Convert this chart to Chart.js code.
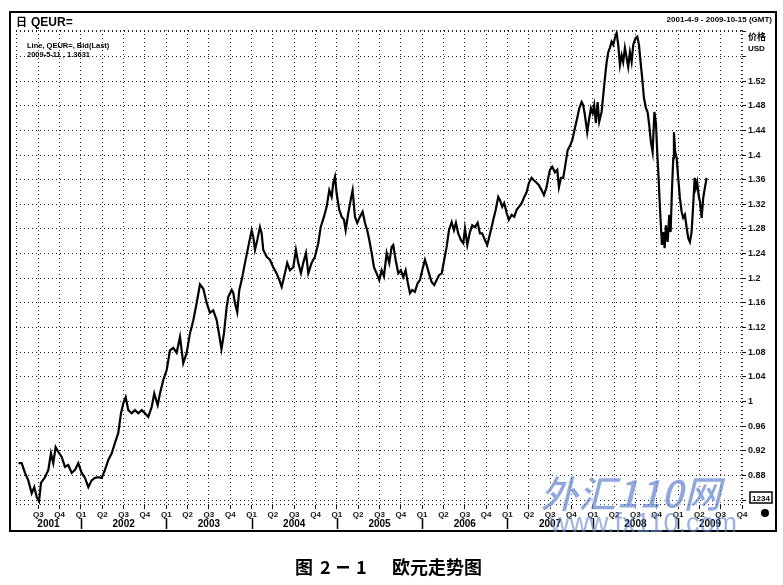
<!DOCTYPE html>
<html><head><meta charset="utf-8">
<script src="https://cdn.jsdelivr.net/npm/chart.js@4.4.1/dist/chart.umd.min.js"></script>
<style>html,body{margin:0;padding:0;background:#fff;}canvas{display:block;}</style>
</head><body>
<canvas id="c" width="783" height="585"></canvas>
<script>
// ---- data (decimal years, EUR/USD bid) ----
const dates = [
2001.268,2001.305,2001.343,2001.382,2001.422,2001.452,2001.481,2001.508,2001.531,2001.578,2001.617,2001.648,2001.675,2001.703,2001.734,2001.774,2001.812,2001.851,2001.891,2001.930,2001.968,
2002.008,2002.047,2002.086,2002.125,2002.164,2002.203,2002.243,2002.281,2002.320,2002.360,2002.399,2002.437,2002.469,2002.496,2002.524,2002.555,2002.594,2002.633,2002.672,2002.712,2002.750,2002.789,2002.829,2002.859,2002.899,2002.926,2002.965,
2003.005,2003.043,2003.082,2003.122,2003.161,2003.199,2003.239,2003.278,2003.317,2003.356,2003.395,2003.434,2003.474,2003.512,2003.551,2003.591,2003.624,2003.647,2003.676,2003.708,2003.727,2003.767,2003.786,2003.805,2003.832,2003.856,2003.884,2003.923,2003.961,
2004.001,2004.020,2004.040,2004.067,2004.098,2004.118,2004.137,2004.177,2004.216,2004.254,2004.294,2004.333,2004.353,2004.391,2004.418,2004.450,2004.489,2004.520,2004.547,2004.579,2004.606,2004.638,2004.665,2004.704,2004.743,2004.782,2004.810,2004.849,2004.880,2004.911,2004.939,2004.958,2004.978,2004.997,
2005.028,2005.056,2005.083,2005.103,2005.134,2005.162,2005.185,2005.212,2005.239,2005.271,2005.302,2005.329,2005.356,2005.380,2005.408,2005.435,2005.466,2005.497,2005.525,2005.552,2005.584,2005.614,2005.642,2005.661,2005.689,2005.720,2005.751,2005.778,2005.806,2005.830,2005.857,2005.884,2005.915,2005.947,2005.974,
2006.001,2006.033,2006.053,2006.080,2006.111,2006.142,2006.170,2006.197,2006.229,2006.259,2006.287,2006.314,2006.346,2006.373,2006.396,2006.423,2006.455,2006.482,2006.502,2006.529,2006.560,2006.587,2006.619,2006.651,2006.677,2006.704,2006.736,2006.763,2006.783,2006.806,2006.834,2006.862,2006.892,2006.912,2006.939,2006.962,2006.991,
2007.017,2007.049,2007.080,2007.108,2007.135,2007.166,2007.197,2007.225,2007.252,2007.283,2007.310,2007.342,2007.369,2007.401,2007.428,2007.459,2007.478,2007.498,2007.525,2007.557,2007.584,2007.604,2007.627,2007.654,2007.682,2007.706,2007.733,2007.762,2007.791,2007.818,2007.842,2007.870,2007.888,2007.908,2007.935,2007.959,2007.979,2007.999,
2008.017,2008.037,2008.057,2008.076,2008.104,2008.123,2008.143,2008.163,2008.182,2008.201,2008.221,2008.240,2008.260,2008.280,2008.299,2008.319,2008.339,2008.357,2008.377,2008.397,2008.416,2008.436,2008.456,2008.475,2008.503,2008.522,2008.542,2008.561,2008.580,2008.600,2008.624,2008.643,2008.662,2008.682,2008.702,2008.723,2008.741,2008.756,2008.772,2008.788,2008.799,2008.811,2008.826,2008.843,2008.858,2008.878,2008.897,2008.913,2008.928,2008.944,2008.952,2008.967,2008.984,
2009.002,2009.022,2009.042,2009.061,2009.081,2009.101,2009.120,2009.139,2009.159,2009.178,2009.195,2009.210,2009.225,2009.241,2009.257,2009.277,2009.295,2009.315,2009.335
];
const prices = [
0.900,0.900,0.884,0.872,0.851,0.861,0.845,0.838,0.868,0.877,0.889,0.916,0.900,0.926,0.918,0.910,0.894,0.897,0.884,0.889,0.900,
0.884,0.876,0.861,0.872,0.876,0.877,0.876,0.889,0.905,0.916,0.933,0.949,0.981,0.997,1.007,0.986,0.981,0.986,0.981,0.986,0.981,0.975,0.991,1.013,0.994,1.013,1.035,
1.051,1.083,1.087,1.079,1.105,1.062,1.079,1.111,1.132,1.160,1.190,1.183,1.160,1.144,1.148,1.132,1.105,1.085,1.110,1.153,1.170,1.181,1.176,1.160,1.145,1.181,1.197,1.225,1.251,
1.278,1.267,1.246,1.262,1.283,1.273,1.246,1.235,1.230,1.218,1.208,1.194,1.186,1.208,1.225,1.213,1.218,1.246,1.225,1.208,1.225,1.241,1.208,1.225,1.235,1.257,1.283,1.300,1.316,1.343,1.332,1.355,1.365,1.338,
1.311,1.300,1.295,1.278,1.306,1.327,1.343,1.300,1.290,1.300,1.308,1.290,1.278,1.262,1.241,1.218,1.208,1.197,1.213,1.203,1.241,1.225,1.251,1.254,1.230,1.208,1.213,1.202,1.213,1.194,1.176,1.181,1.178,1.192,1.197,
1.213,1.230,1.221,1.208,1.194,1.189,1.197,1.205,1.208,1.230,1.251,1.278,1.291,1.278,1.290,1.273,1.262,1.257,1.281,1.254,1.275,1.286,1.283,1.290,1.273,1.273,1.262,1.254,1.265,1.278,1.295,1.311,1.332,1.327,1.316,1.322,1.306,
1.295,1.303,1.300,1.311,1.316,1.322,1.332,1.340,1.355,1.363,1.359,1.355,1.351,1.343,1.335,1.348,1.363,1.376,1.381,1.372,1.376,1.348,1.363,1.363,1.387,1.408,1.415,1.425,1.444,1.460,1.476,1.486,1.481,1.465,1.437,1.460,1.476,1.468,
1.481,1.452,1.486,1.454,1.470,1.497,1.525,1.551,1.567,1.574,1.584,1.579,1.590,1.598,1.579,1.546,1.562,1.551,1.574,1.558,1.543,1.567,1.551,1.579,1.590,1.592,1.579,1.551,1.525,1.493,1.476,1.470,1.449,1.421,1.405,1.470,1.452,1.405,1.363,1.314,1.286,1.254,1.275,1.249,1.286,1.259,1.303,1.275,1.340,1.395,1.437,1.405,1.395,
1.363,1.330,1.308,1.298,1.303,1.282,1.265,1.259,1.275,1.319,1.363,1.347,1.356,1.335,1.324,1.298,1.330,1.347,1.363
];
const quarterTicks = [2001.5,2001.75,2002,2002.25,2002.5,2002.75,2003,2003.25,2003.5,2003.75,2004,2004.25,2004.5,2004.75,2005,2005.25,2005.5,2005.75,2006,2006.25,2006.5,2006.75,2007,2007.25,2007.5,2007.75,2008,2008.25,2008.5,2008.75,2009,2009.25,2009.5,2009.75];
const quarterLabels = ['Q3','Q4','Q1','Q2','Q3','Q4','Q1','Q2','Q3','Q4','Q1','Q2','Q3','Q4','Q1','Q2','Q3','Q4','Q1','Q2','Q3','Q4','Q1','Q2','Q3','Q4','Q1','Q2','Q3','Q4','Q1','Q2','Q3','Q4'];
const yearStarts = [2001,2002,2003,2004,2005,2006,2007,2008,2009];
const yearLabels = ['2001','2002','2003','2004','2005','2006','2007','2008','2009'];
const priceTicks = [0.84,0.88,0.92,0.96,1.00,1.04,1.08,1.12,1.16,1.20,1.24,1.28,1.32,1.36,1.40,1.44,1.48,1.52,1.56,1.60];
const priceTickLabels = ['','0.88','0.92','0.96','1','1.04','1.08','1.12','1.16','1.2','1.24','1.28','1.32','1.36','1.4','1.44','1.48','1.52','',''];

const FONT = "'Liberation Sans', Arial, sans-serif";
const CJK = "'Noto Sans CJK SC', sans-serif";
const DOT = [1, 3];

const decor = {
  id: 'decor',
  afterDraw(chart) {
    const ctx = chart.ctx, a = chart.chartArea, xs = chart.scales.x;
    ctx.save();
    // dotted plot border
    ctx.strokeStyle = '#222'; ctx.lineWidth = 1; ctx.setLineDash(DOT);
    ctx.beginPath();
    ctx.moveTo(a.left + 0.5, a.top); ctx.lineTo(a.left + 0.5, a.bottom);
    ctx.moveTo(a.left, a.top + 0.5); ctx.lineTo(a.right, a.top + 0.5);
    ctx.moveTo(a.right - 0.5, a.top); ctx.lineTo(a.right - 0.5, a.bottom);
    ctx.moveTo(a.left, a.bottom - 0.5); ctx.lineTo(a.right, a.bottom - 0.5);
    ctx.stroke();
    ctx.setLineDash([]);
    // outer frame
    ctx.lineWidth = 2; ctx.strokeStyle = '#000';
    ctx.strokeRect(10, 12, 766, 519);
    // header
    ctx.fillStyle = '#000'; ctx.textBaseline = 'alphabetic'; ctx.textAlign = 'left';
    ctx.font = 'bold 11px ' + CJK; ctx.fillText('日', 16, 26);
    ctx.font = 'bold 12px ' + FONT; ctx.fillText('QEUR=', 31, 26);
    ctx.font = 'bold 8px ' + FONT; ctx.textAlign = 'right';
    ctx.fillText('2001-4-9 - 2009-10-15 (GMT)', 772, 22);
    ctx.textAlign = 'left';
    ctx.font = 'bold 7.5px ' + FONT;
    ctx.fillText('Line, QEUR=, Bid(Last)', 27, 48);
    ctx.fillText('2009-5-11 , 1.3631', 27, 57);
    ctx.font = 'bold 9px ' + CJK; ctx.fillText('价格', 748, 40);
    ctx.font = 'bold 8px ' + FONT; ctx.fillText('USD', 748, 51);
    // year labels + separators
    ctx.font = 'bold 10px ' + FONT; ctx.textAlign = 'center';
    ctx.lineWidth = 1.5;
    yearStarts.forEach((s, i) => {
      const lo = Math.max(s, xs.min), hi = Math.min(s + 1, xs.max);
      const cx = (xs.getPixelForValue(lo) + xs.getPixelForValue(hi)) / 2;
      ctx.fillText(yearLabels[i], cx, 527);
      if (s > xs.min) {
        const px = Math.round(xs.getPixelForValue(s)) + 0.5;
        ctx.beginPath(); ctx.moveTo(px, 518); ctx.lineTo(px, 529); ctx.stroke();
      }
    });
    // value box and dot
    ctx.lineWidth = 1.5;
    ctx.strokeRect(750, 492, 22, 11);
    ctx.font = 'bold 8px ' + FONT; ctx.fillText('1234', 761, 501);
    ctx.beginPath(); ctx.arc(765, 513, 4, 0, Math.PI * 2); ctx.fill();
    // watermark
    ctx.textAlign = 'left';
    ctx.fillStyle = 'rgba(95,130,205,0.7)';
    ctx.strokeStyle = 'rgba(255,255,255,0.9)'; ctx.lineWidth = 1;
    ctx.font = 'italic bold 38px ' + CJK;
    ctx.fillText('外汇110网', 540, 508); ctx.strokeText('外汇110网', 540, 508);
    ctx.fillStyle = 'rgba(95,130,205,0.62)';
    ctx.font = '27px ' + FONT; ctx.fillText('www.fx110.com', 550, 532);
    // caption
    ctx.fillStyle = '#000';
    ctx.font = 'bold 18px ' + CJK;
    ctx.fillText('图', 295, 574);
    ctx.fillText('2', 320, 574);
    ctx.fillRect(337, 566, 12, 2.5);
    ctx.fillText('1', 356, 574);
    ctx.fillText('欧元走势图', 392, 574);
    ctx.restore();
  }
};

new Chart(document.getElementById('c'), {
  type: 'line',
  data: {
    datasets: [{
      data: dates.map((d, i) => ({ x: d, y: prices[i] })),
      borderColor: '#000', borderWidth: 2.2, pointRadius: 0, tension: 0, fill: false
    }]
  },
  options: {
    responsive: false, animation: false, devicePixelRatio: 1, events: [],
    layout: { padding: { left: 16, top: 30, right: 7, bottom: 54 } },
    plugins: { legend: { display: false }, tooltip: { enabled: false } },
    scales: {
      x: {
        type: 'linear', position: 'bottom', min: 2001.238, max: 2009.75,
        afterBuildTicks: s => { s.ticks = quarterTicks.map(v => ({ value: v })); },
        afterFit: s => { s.height = 26; },
        ticks: { autoSkip: false, maxRotation: 0, padding: 1, color: '#111',
          font: { family: FONT, size: 8, weight: 'bold' },
          callback: (v, i) => quarterLabels[i] },
        grid: { color: '#222', lineWidth: 1, tickLength: 4, tickColor: '#111', tickBorderDash: [] },
        border: { display: false, dash: DOT }
      },
      y: {
        type: 'linear', position: 'right', min: 0.832, max: 1.603,
        afterBuildTicks: s => { s.ticks = priceTicks.map(v => ({ value: v })); },
        afterFit: s => { s.width = 34; },
        ticks: { padding: 2, color: '#111',
          font: { family: FONT, size: 9, weight: 'bold' },
          callback: (v, i) => priceTickLabels[i] },
        grid: { color: '#222', lineWidth: 1, tickLength: 4, tickColor: '#111', tickBorderDash: [] },
        border: { display: false, dash: DOT }
      }
    }
  },
  plugins: [decor]
});
</script>
</body></html>
